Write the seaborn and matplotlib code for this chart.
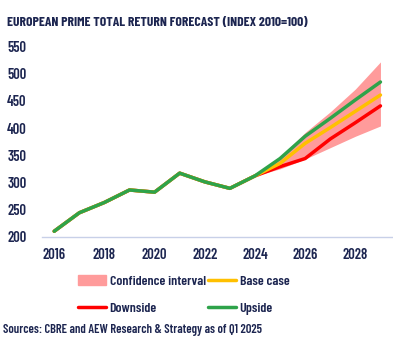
import matplotlib
matplotlib.use("Agg")
import matplotlib.pyplot as plt
from matplotlib import font_manager
from matplotlib.patches import Patch
from matplotlib.lines import Line2D
import seaborn as sns
import pandas as pd

# ---- data ----
hist_years = [2016, 2017, 2018, 2019, 2020, 2021, 2022, 2023, 2024]
hist_values = [210, 244, 263, 286, 282, 317, 301, 289, 312]
fc_years = [2024, 2025, 2026, 2027, 2028, 2029]
base_case = [312, 335, 372, 401, 431, 461]
downside = [312, 329, 344, 380, 410, 441]
upside = [312, 344, 385, 418, 452, 485]
ci_low = [312, 325, 343, 364, 385, 404]
ci_high = [312, 347, 392, 430, 472, 522]
x_ticks = [2016, 2018, 2020, 2022, 2024, 2026, 2028]
y_ticks = [200, 250, 300, 350, 400, 450, 500, 550]

sns.set_theme(style="white")
names = {f.name for f in font_manager.fontManager.ttflist}
fam = "DejaVu Sans"
for cand in ["Barlow Condensed", "Roboto Condensed", "Archivo Narrow", "PT Sans Narrow", "Oswald"]:
    if cand in names:
        fam = cand
        break
plt.rcParams["font.family"] = [fam, "DejaVu Sans"]
navy = "#1c2550"
W = 600

rows = []
for y, v in zip(hist_years, hist_values):
    for s in ["Upside", "Base case", "Downside"]:
        rows.append((y, v, s))
for y, b, d, u in zip(fc_years[1:], base_case[1:], downside[1:], upside[1:]):
    rows += [(y, u, "Upside"), (y, b, "Base case"), (y, d, "Downside")]
df = pd.DataFrame(rows, columns=["year", "value", "scenario"])

colors = {"Downside": "#ff0000", "Base case": "#ffc000", "Upside": "#2ea34a"}

fig = plt.figure(figsize=(3.93, 3.46), dpi=100)
ax = fig.add_axes([0.106, 0.316, 0.894, 0.549])
ax.fill_between(fc_years, ci_low, ci_high, color="#ff9b9b", lw=0, zorder=1)
sns.lineplot(data=df, x="year", y="value", hue="scenario",
             hue_order=["Downside", "Base case", "Upside"], palette=colors,
             linewidth=2.5, ax=ax, legend=False, zorder=3)
for ln in ax.get_lines():
    ln.set_solid_joinstyle("round")
    ln.set_solid_capstyle("round")

ax.set_xlim(2015.5, 2029.5)
ax.set_ylim(200, 550)
ax.set_xticks(x_ticks)
ax.set_yticks(y_ticks)
ax.set_xlabel("")
ax.set_ylabel("")
for s in ["top", "right", "left"]:
    ax.spines[s].set_visible(False)
ax.spines["bottom"].set_color("#c8d0e8")
ax.spines["bottom"].set_linewidth(1.0)
ax.tick_params(axis="both", length=0, labelsize=10.5, colors=navy, labelcolor=navy)
ax.tick_params(axis="y", pad=11)
ax.tick_params(axis="x", pad=8)
for lab in ax.get_xticklabels() + ax.get_yticklabels():
    lab.set_fontweight(W)

fig.text(0.018, 0.935, "EUROPEAN PRIME TOTAL RETURN FORECAST (INDEX 2010=100)",
         fontsize=9.8, fontweight=700, color=navy, va="center", ha="left")

handles = [Patch(color="#ff9b9b", label="Confidence interval"),
           Line2D([], [], color="#ff0000", lw=2.5, label="Downside"),
           Line2D([], [], color="#ffc000", lw=2.5, label="Base case"),
           Line2D([], [], color="#2ea34a", lw=2.5, label="Upside")]
leg = fig.legend(handles=handles, ncol=2, loc="center", bbox_to_anchor=(0.468, 0.147),
                 frameon=False, fontsize=10, handlelength=2.0, handletextpad=0.25,
                 columnspacing=0.2, labelspacing=1.05)
for t in leg.get_texts():
    t.set_color(navy)
    t.set_fontweight(W)

fig.text(0.008, 0.045, "Sources: CBRE and AEW Research & Strategy as of Q1 2025",
         fontsize=9, fontweight=W, color=navy, va="center", ha="left")

fig.savefig("out.png", dpi=100)
